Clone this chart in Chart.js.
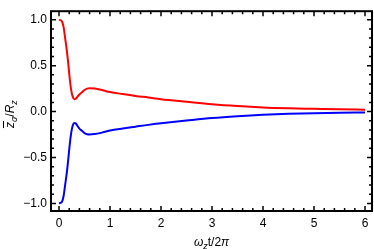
<!DOCTYPE html>
<html><head><meta charset="utf-8">
<script src="https://cdn.jsdelivr.net/npm/chart.js@4/dist/chart.umd.min.js"></script>
<style>html,body{margin:0;padding:0;background:#fff}#wrap{width:374px;height:249px}</style>
</head><body><div id="wrap"><canvas id="c" width="374" height="249"></canvas></div>
<script>
const tValues = [0,0.03,0.06,0.09,0.12,0.15,0.18,0.21,0.24,0.27,0.3,0.33,0.36,0.4,0.45,0.5,0.55,0.6,0.7,0.8,0.9,1.0,1.25,1.5,1.75,2.0,2.5,3.0,3.5,4.0,4.5,5.0,5.5,6.0];
const redValues = [1.0,0.995,0.98,0.92,0.8,0.68,0.53,0.36,0.23,0.16,0.135,0.14,0.16,0.185,0.21,0.235,0.25,0.255,0.25,0.24,0.225,0.212,0.19,0.17,0.153,0.135,0.107,0.08,0.06,0.045,0.036,0.03,0.024,0.02];
const blueValues = [-1.0,-0.995,-0.98,-0.92,-0.8,-0.68,-0.53,-0.36,-0.23,-0.15,-0.125,-0.13,-0.155,-0.185,-0.21,-0.235,-0.248,-0.25,-0.245,-0.235,-0.22,-0.207,-0.185,-0.165,-0.145,-0.128,-0.098,-0.07,-0.05,-0.035,-0.025,-0.018,-0.013,-0.01];
const xTickValues = [0,1,2,3,4,5,6];
const xTickLabels = ["0","1","2","3","4","5","6"];
const yTickValues = [1.0,0.5,0.0,-0.5,-1.0];
const yTickLabels = ["1.0","0.5","0.0","\u22120.5","\u22121.0"];

const FONT = "'Liberation Sans', Arial, sans-serif";

const framePlugin = {
  id: 'frame',
  afterDraw(chart) {
    const ctx = chart.ctx, a = chart.chartArea;
    const xs = chart.scales.x, ys = chart.scales.y;
    ctx.save();
    ctx.strokeStyle = '#000';
    ctx.lineWidth = 2;
    ctx.strokeRect(a.left, a.top, a.right - a.left, a.bottom - a.top);
    ctx.lineWidth = 1.5;
    // x ticks
    for (let i = 0; i <= 30; i++) {
      const v = i * 0.2;
      const px = xs.getPixelForValue(v);
      const major = i % 5 === 0;
      const L = major ? 5 : 3;
      ctx.beginPath();
      ctx.moveTo(px, a.bottom); ctx.lineTo(px, a.bottom - L);
      ctx.moveTo(px, a.top); ctx.lineTo(px, a.top + L);
      ctx.stroke();
    }
    for (let i = -10; i <= 10; i++) {
      const v = i * 0.1;
      const py = ys.getPixelForValue(v);
      const major = i % 5 === 0;
      const L = major ? 5 : 3;
      ctx.beginPath();
      ctx.moveTo(a.left, py); ctx.lineTo(a.left + L, py);
      ctx.moveTo(a.right, py); ctx.lineTo(a.right - L, py);
      ctx.stroke();
    }
    // x title: ω_z t/2π
    ctx.fillStyle = '#000';
    ctx.textBaseline = 'alphabetic';
    const parts = [
      {t:'\u03C9', f:'italic 12px ' + FONT, dy:0},
      {t:'z', f:'italic 9px ' + FONT, dy:3},
      {t:'t/2', f:'12px ' + FONT, dy:0},
      {t:'\u03C0', f:'italic 12px ' + FONT, dy:0}
    ];
    let w = 0;
    parts.forEach(p => { ctx.font = p.f; p.w = ctx.measureText(p.t).width; w += p.w; });
    let x = (a.left + a.right) / 2 - w / 2;
    const by = 246;
    parts.forEach(p => { ctx.font = p.f; ctx.fillText(p.t, x, by + p.dy); x += p.w; });
    // y title: z̄_σ / R_z
    ctx.translate(14, (a.top + a.bottom) / 2 + 3);
    ctx.rotate(-Math.PI / 2);
    const yp = [
      {t:'z', f:'italic 12px ' + FONT, dy:0, bar:true},
      {t:'\u03C3', f:'italic 9px ' + FONT, dy:3},
      {t:'/', f:'12px ' + FONT, dy:0},
      {t:'R', f:'italic 12px ' + FONT, dy:0},
      {t:'z', f:'italic 9px ' + FONT, dy:3}
    ];
    w = 0;
    yp.forEach(p => { ctx.font = p.f; p.w = ctx.measureText(p.t).width; w += p.w; });
    x = -w / 2;
    yp.forEach(p => {
      ctx.font = p.f; ctx.fillText(p.t, x, p.dy);
      if (p.bar) { ctx.lineWidth = 1; ctx.beginPath(); ctx.moveTo(x, -10.5); ctx.lineTo(x + p.w + 1, -10.5); ctx.stroke(); }
      x += p.w;
    });
    ctx.restore();
  }
};

new Chart(document.getElementById('c'), {
  type: 'line',
  data: {
    datasets: [
      { data: tValues.map((t, i) => ({x: t, y: redValues[i]})), borderColor: '#ff0000', borderWidth: 2, pointRadius: 0, cubicInterpolationMode: 'monotone', fill: false },
      { data: tValues.map((t, i) => ({x: t, y: blueValues[i]})), borderColor: '#0000ff', borderWidth: 2, pointRadius: 0, cubicInterpolationMode: 'monotone', fill: false }
    ]
  },
  options: {
    responsive: false,
    animation: false,
    devicePixelRatio: 1,
    layout: { padding: { top: 1, right: 2, left: 0, bottom: 0 } },
    plugins: { legend: { display: false }, tooltip: { enabled: false } },
    scales: {
      x: {
        type: 'linear', min: -0.157, max: 6.137,
        grid: { display: false, drawTicks: false }, border: { display: false },
        afterBuildTicks: s => { s.ticks = xTickValues.map(v => ({value: v})); },
        afterFit: s => { s.height = 38; },
        ticks: { padding: 5, color: '#000', font: { family: FONT, size: 12 }, maxRotation: 0,
          callback: (v) => { const i = xTickValues.indexOf(v); return i >= 0 ? xTickLabels[i] : ''; } }
      },
      y: {
        type: 'linear', min: -1.083, max: 1.093,
        grid: { display: false, drawTicks: false }, border: { display: false },
        afterBuildTicks: s => { s.ticks = yTickValues.map(v => ({value: v})); },
        afterFit: s => { s.width = 51; },
        ticks: { padding: 4, color: '#000', font: { family: FONT, size: 12 },
          callback: (v) => { const i = yTickValues.findIndex(q => Math.abs(q - v) < 1e-9); return i >= 0 ? yTickLabels[i] : ''; } }
      }
    }
  },
  plugins: [framePlugin]
});
</script></body></html>
